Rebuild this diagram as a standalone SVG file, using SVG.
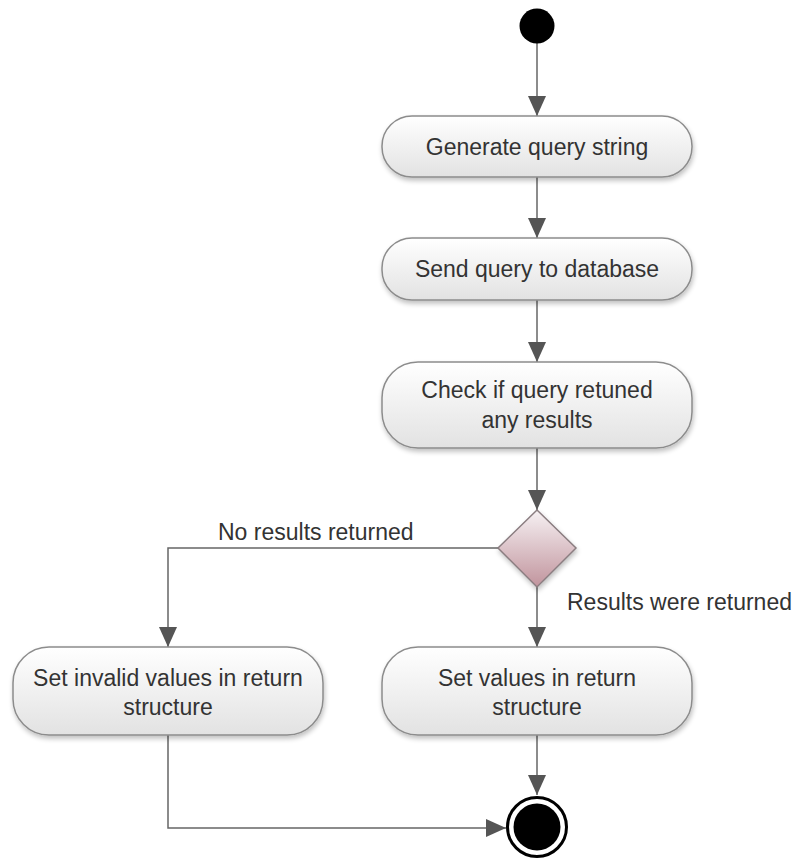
<svg xmlns="http://www.w3.org/2000/svg" width="798" height="859" viewBox="0 0 798 859">
  <defs>
    <linearGradient id="actFill" x1="0" y1="0" x2="0" y2="1">
      <stop offset="0" stop-color="#ffffff"/>
      <stop offset="1" stop-color="#e2e2e2"/>
    </linearGradient>
    <linearGradient id="decFill" x1="0" y1="0" x2="0" y2="1">
      <stop offset="0" stop-color="#f6f1f3"/>
      <stop offset="1" stop-color="#c1949d"/>
    </linearGradient>
    <filter id="shadow" x="-10%" y="-20%" width="120%" height="150%">
      <feGaussianBlur in="SourceAlpha" stdDeviation="2.5"/>
      <feOffset dx="1" dy="3" result="b"/>
      <feComponentTransfer><feFuncA type="linear" slope="0.25"/></feComponentTransfer>
      <feMerge><feMergeNode/><feMergeNode in="SourceGraphic"/></feMerge>
    </filter>
    <marker id="arrow" viewBox="0 0 20 18" refX="20" refY="9" markerWidth="20" markerHeight="18" markerUnits="userSpaceOnUse" orient="auto">
      <path d="M0,0 L20,9 L0,18 Z" fill="#555555"/>
    </marker>
  </defs>
  <style>
    .act { fill: url(#actFill); stroke: #8c8c8c; stroke-width: 1.5; filter: url(#shadow); }
    .dec { fill: url(#decFill); stroke: #8a7d80; stroke-width: 1.5; filter: url(#shadow); }
    .lbl { font-family: "Liberation Sans", Arial, sans-serif; font-size: 23px; fill: #333333; text-anchor: middle; }
    .edge { fill: none; stroke: #666666; stroke-width: 1.5; marker-end: url(#arrow); }
    .elbl { font-family: "Liberation Sans", Arial, sans-serif; font-size: 23px; fill: #333333; }
  </style>

  <rect width="798" height="859" fill="#ffffff"/>

  <g id="connectors">
    <path class="edge" d="M537,43 L537,116"/>
    <path class="edge" d="M537,177 L537,238"/>
    <path class="edge" d="M537,300 L537,362"/>
    <path class="edge" d="M537,448 L537,510"/>
    <path class="edge" d="M498,548 L168,548 L168,647"/>
    <path class="edge" d="M537,587 L537,647"/>
    <path class="edge" d="M537,735 L537,795"/>
    <path class="edge" d="M168,735 L168,828 L506,828"/>
    <text class="elbl" x="218" y="540">No results returned</text>
    <text class="elbl" x="567" y="610">Results were returned</text>
  </g>

  <g id="start">
    <circle cx="537" cy="26" r="17.5" fill="#000000"/>
  </g>

  <g id="generate-query">
    <rect class="act" x="382" y="116" width="310" height="61" rx="30" ry="30"/>
    <text class="lbl" x="537" y="155">Generate query string</text>
  </g>

  <g id="send-query">
    <rect class="act" x="382" y="238" width="310" height="62" rx="30" ry="30"/>
    <text class="lbl" x="537" y="277">Send query to database</text>
  </g>

  <g id="check-results">
    <rect class="act" x="382" y="362" width="310" height="86" rx="36" ry="36"/>
    <text class="lbl" x="537" y="398">Check if query retuned</text>
    <text class="lbl" x="537" y="428">any results</text>
  </g>

  <g id="decision">
    <polygon class="dec" points="537,510 576,548 537,587 498,548"/>
  </g>

  <g id="set-invalid">
    <rect class="act" x="13" y="647" width="310" height="88" rx="36" ry="36"/>
    <text class="lbl" x="168" y="686">Set invalid values in return</text>
    <text class="lbl" x="168" y="715">structure</text>
  </g>

  <g id="set-values">
    <rect class="act" x="382" y="647" width="310" height="88" rx="36" ry="36"/>
    <text class="lbl" x="537" y="686">Set values in return</text>
    <text class="lbl" x="537" y="715">structure</text>
  </g>

  <g id="end">
    <circle cx="537" cy="827" r="29.5" fill="#ffffff" stroke="#000000" stroke-width="3"/>
    <circle cx="537" cy="827" r="23.5" fill="#000000"/>
  </g>
</svg>
